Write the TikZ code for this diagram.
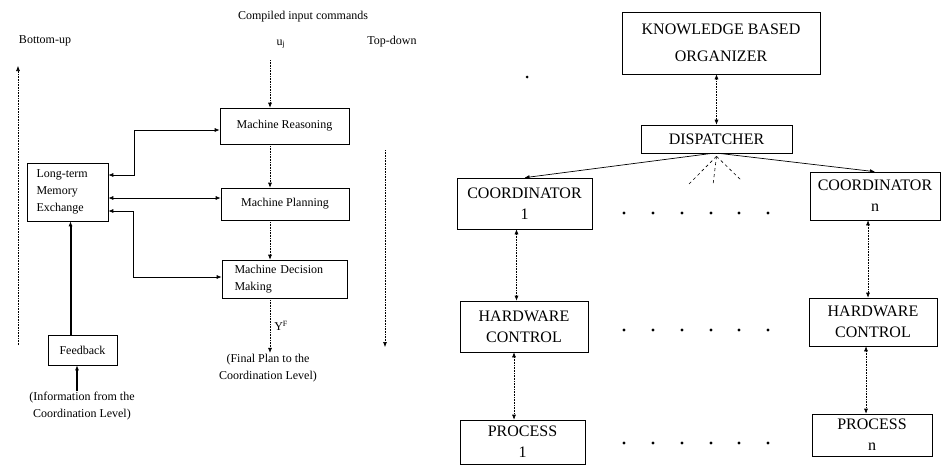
\documentclass[tikz,border=0pt]{standalone}
\usepackage{fontspec}
\setmainfont{Liberation Serif}
\usetikzlibrary{arrows.meta}

\begin{document}
\begin{tikzpicture}[x=1pt,y=-1pt,>/.tip={Latex[length=5pt,width=4pt]},
	blk/.style={draw,line width=0.6pt,inner sep=2pt,font=\fontsize{12}{17}\selectfont},
	capbox/.style={draw,line width=0.6pt,inner sep=2pt,align=center,font=\fontsize{16}{21}\selectfont},
	lbl/.style={inner sep=1pt,align=center,font=\fontsize{12}{17}\selectfont},
	link/.style={->,densely dotted,line width=0.6pt}]
	\useasboundingbox (0,0) rectangle (943,466);
	% left: organization level
	\node (compiled) [lbl] at (303,17) {Compiled input commands};
	\node (bottomup) [lbl] at (45,41) {Bottom-up};
	\node (topdown) [lbl] at (392,42) {Top-down};
	\node (uj) [lbl] at (281,44) {u\textsubscript{j}};
	\coordinate (ujin) at (270,60);
	\coordinate (bubase) at (18,345);
	\coordinate (butip) at (18,66);
	\coordinate (tdbase) at (385,150);
	\coordinate (tdtip) at (385,347);
	\draw (284.5,126) node(mr) [blk,minimum width=129pt,minimum height=36pt] {Machine Reasoning};
	\draw (285,204) node(mp) [blk,minimum width=128pt,minimum height=32pt] {Machine Planning};
	\draw (284.5,279) node(mdm) [blk,minimum width=125pt,minimum height=38pt,text width=100pt,align=left] {Machine Decision\\Making};
	\draw (67.5,192) node(ltm) [blk,minimum width=81pt,minimum height=58pt,text width=62pt,align=left] {Long-term\\Memory\\Exchange};
	\draw (82.5,350) node(fb) [blk,minimum width=69pt,minimum height=30pt] {Feedback};
	\node (final) [lbl] at (268,368) {(Final Plan to the\\Coordination Level)};
	\node (info) [lbl] at (82,406) {(Information from the\\Coordination Level)};
	\draw[link] (ujin) -- (ujin |- mr.north);
	\draw[link] (ujin |- mr.south) -- (ujin |- mp.north);
	\draw[link] (ujin |- mp.south) -- (ujin |- mdm.north);
	\draw[link] (ujin |- mdm.south) -- node [right,lbl,xshift=3pt] {Y\textsuperscript{F}} (ujin |- final.north);
	\draw[<->,line width=0.7pt] ([yshift=17pt]ltm.east) -- ++(26,0) |- ([yshift=-4pt]mr.west);
	\draw[<->,line width=0.7pt] ([yshift=-6pt]ltm.east) -- ([yshift=6pt]mp.west);
	\draw[<->,line width=0.7pt] ([yshift=-19pt]ltm.east) -- ++(25,0) |- ([yshift=2pt]mdm.west);
	\draw[->,line width=2pt] ([xshift=-12pt]fb.north) -- ([xshift=-12pt]fb.north |- ltm.south);
	\draw[->,line width=2pt] ([xshift=-5pt]info.north) -- ([xshift=-5pt]info.north |- fb.south);
	\draw[link] (bubase) -- (butip);
	\draw[link] (tdbase) -- (tdtip);
	% right: coordination and execution levels
	\draw (721,43) node(kbo) [capbox,minimum width=198pt,minimum height=62pt] {KNOWLEDGE BASED\\[6pt]ORGANIZER};
	\draw (716.5,139) node(disp) [capbox,minimum width=151pt,minimum height=28pt] {DISPATCHER};
	\draw (524.5,203.5) node(c1) [capbox,minimum width=135pt,minimum height=51pt] {COORDINATOR\\1};
	\draw (875,196) node(cn) [capbox,minimum width=130pt,minimum height=48pt] {COORDINATOR\\n};
	\draw (524,326.5) node(hc1) [capbox,minimum width=128pt,minimum height=51pt] {HARDWARE\\CONTROL};
	\draw (873,322) node(hcn) [capbox,minimum width=128pt,minimum height=48pt] {HARDWARE\\CONTROL};
	\draw (522.5,442) node(p1) [capbox,minimum width=125pt,minimum height=44pt] {PROCESS\\1};
	\draw (872,435) node(pn) [capbox,minimum width=120pt,minimum height=42pt] {PROCESS\\n};
	\fill (527,77) circle (1.5pt);
	\draw[<->,densely dotted,line width=0.6pt] (disp.north) -- (disp.north |- kbo.south);
	\draw[->,line width=0.7pt] ([xshift=-4pt]disp.south) -- (c1.north);
	\draw[->,line width=0.7pt] ([xshift=2pt]disp.south) -- (cn.north);
	\foreach \x/\y in {688/185,713/185,742/181}
		\draw[dashed,line width=0.6pt] ([yshift=-3pt]disp.south) -- (\x,\y);
	\draw[<->,densely dotted,line width=0.6pt] ([xshift=-8pt]c1.south) -- ([xshift=-8pt]c1.south |- hc1.north);
	\draw[<->,densely dotted,line width=0.6pt] ([xshift=-7pt]cn.south) -- ([xshift=-7pt]cn.south |- hcn.north);
	\draw[<->,densely dotted,line width=0.6pt] ([xshift=-10pt]hc1.south) -- ([xshift=-10pt]hc1.south |- p1.north);
	\draw[<->,densely dotted,line width=0.6pt] ([xshift=-7pt]hcn.south) -- ([xshift=-7pt]hcn.south |- pn.north);
	\foreach \y in {213,330,443}
		\foreach \x in {624,653,682,711,739,768}
			\fill (\x,\y) circle (1.6pt);
\end{tikzpicture}
\end{document}
